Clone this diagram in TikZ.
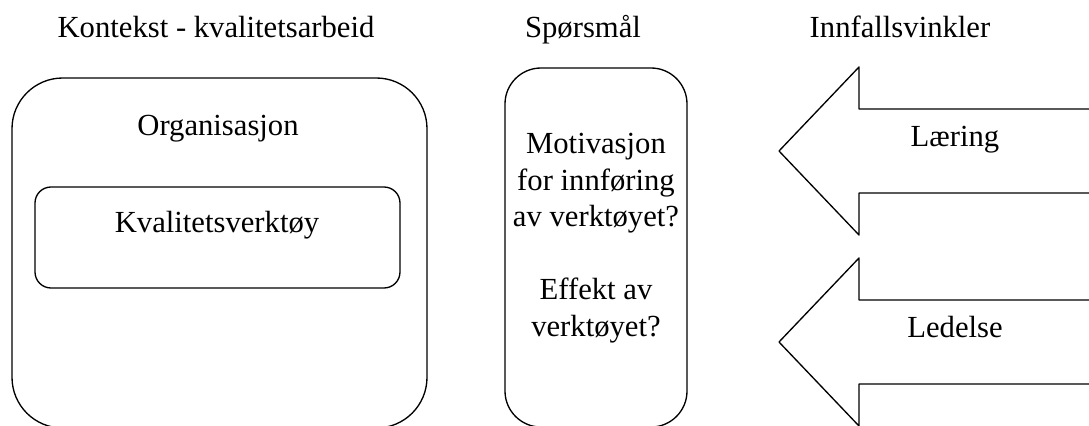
\documentclass[tikz,border=0pt]{standalone}
\usepackage{fontspec}
\setmainfont{Liberation Serif}
\usepackage{tikz}
\usetikzlibrary{positioning}
\tikzset{
	boxline/.style={line width=1pt, line join=round}
}
\tikzset{
	bigtext/.style={font=\fontsize{23}{27.4}\selectfont, inner sep=0pt, anchor=base, align=center}
}

\begin{document}
\begin{tikzpicture}[x=0.75pt, y=-0.75pt]
      \useasboundingbox (0,0) rectangle (1089,425);
      \clip (0,0) rectangle (1089,425);
      % headings
      \node[bigtext] (kontekst) at (216,37) {Kontekst - kvalitetsarbeid};
      \node[bigtext] (sporsmal) at (583,37) {Spørsmål};
      \node[bigtext] (innfall) at (900,37) {Innfallsvinkler};
      % organisation
      \draw[boxline, rounded corners=38pt] (12,78) rectangle (427,428);
      \node[bigtext] (org) at (218,135) {Organisasjon};
      \draw[boxline, rounded corners=12pt] (35,187) rectangle (400,288);
      \node[bigtext] (verktoy) at (217,232) {Kvalitetsverktøy};
      % questions
      \draw[boxline, rounded corners=27pt] (505,68) rectangle (687,427);
      \node[bigtext, anchor=north] (motiv) at (596,133) {Motivasjon\\for innføring\\av verktøyet?\\[27.4pt]Effekt av\\verktøyet?};
      % approaches
      \foreach \y/\l/\n in {151/Læring/laering, 342/Ledelse/ledelse}
        {\draw[boxline] (1095,\y-42) -- (859,\y-42) -- (859,\y-84) -- (779,\y) -- (859,\y+84) -- (859,\y+42) -- (1095,\y+42);
         \node[bigtext] (\n) at (955,\y-5) {\l};}
    \end{tikzpicture}
\end{document}
